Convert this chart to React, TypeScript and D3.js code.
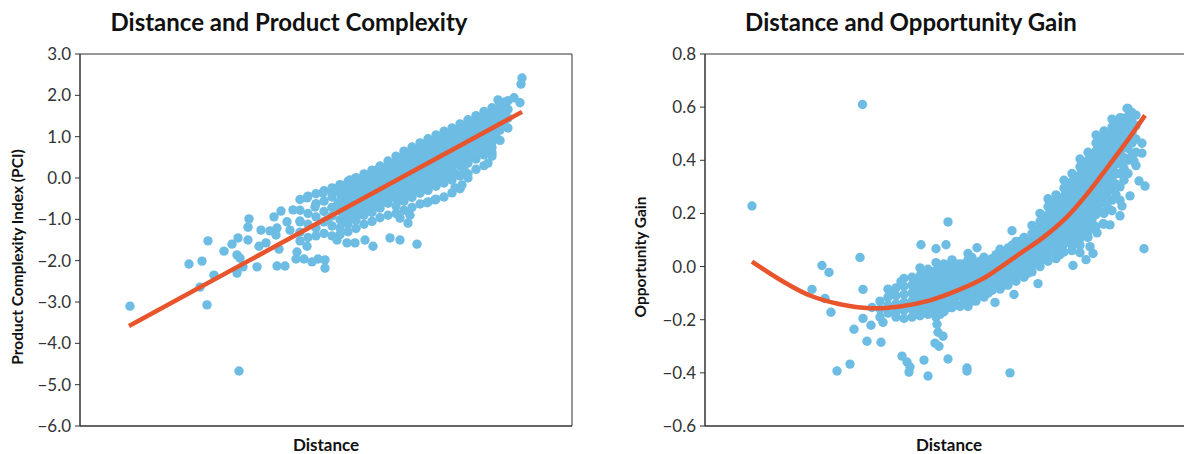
import React from "react";
import * as d3 from "d3";

// --- data --------------------------------------------------------------

// left panel: dense cloud as columns of [distance, PCI values]
const pciColumns: [number, number[]][] = [
  [44, [-0.52, -0.78, -1.04, -1.31, -1.52]],
  [45.6, [-0.44, -0.86, -1.12, -1.44]],
  [47.2, [-0.38, -0.62, -0.94, -1.21, -1.4]],
  [48.8, [-0.31, -0.56, -0.81, -1.06, -1.34]],
  [50.4, [-0.24, -0.46, -0.71, -0.92, -1.16, -1.4]],
  [52, [-0.16, -0.36, -0.56, -0.79, -1.01, -1.21, -1.37]],
  [53.6, [-0.08, -0.29, -0.51, -0.71, -0.91, -1.11, -1.3]],
  [55.2, [0.01, -0.21, -0.4, -0.61, -0.81, -1.02, -1.22]],
  [56.8, [0.1, -0.11, -0.31, -0.5, -0.71, -0.9, -1.12]],
  [58.4, [0.19, -0.02, -0.22, -0.43, -0.62, -0.83, -1.05]],
  [60, [0.29, 0.08, -0.12, -0.33, -0.52, -0.73, -0.96]],
  [61.6, [0.41, 0.2, 0.0, -0.21, -0.4, -0.61, -0.9]],
  [63.2, [0.53, 0.32, 0.12, -0.08, -0.29, -0.48, -0.68, -0.86]],
  [64.8, [0.65, 0.45, 0.25, 0.05, -0.15, -0.36, -0.56, -0.78]],
  [66.4, [0.75, 0.54, 0.34, 0.14, -0.06, -0.27, -0.47, -0.71]],
  [68, [0.85, 0.64, 0.44, 0.24, 0.04, -0.16, -0.37, -0.63]],
  [69.6, [0.95, 0.74, 0.54, 0.34, 0.14, -0.06, -0.3, -0.58]],
  [71.2, [1.04, 0.83, 0.63, 0.43, 0.23, 0.03, -0.2, -0.51]],
  [72.8, [1.13, 0.92, 0.72, 0.52, 0.32, 0.12, -0.12, -0.46]],
  [74.4, [1.21, 1.01, 0.81, 0.6, 0.4, 0.2, -0.05, -0.36]],
  [76, [1.31, 1.1, 0.9, 0.7, 0.5, 0.3, 0.05, -0.26]],
  [77.6, [1.41, 1.2, 1.0, 0.8, 0.6, 0.36, 0.1]],
  [79.2, [1.51, 1.3, 1.1, 0.9, 0.7, 0.46, 0.21]],
  [80.8, [1.61, 1.4, 1.2, 1.0, 0.8, 0.56, 0.3]],
  [82.4, [1.7, 1.5, 1.3, 1.1, 0.86, 0.61]],
  [84, [1.79, 1.58, 1.38, 1.16, 0.91]],
  [85.6, [1.87, 1.66, 1.45, 1.21]],
];

// left panel: points packed between the columns in the solid core
const pciCore: [number, number[]][] = [
  [52.8, [-0.21, -0.41, -0.64, -0.86, -1.06]],
  [54.4, [-0.14, -0.36, -0.56, -0.76, -0.96]],
  [56, [-0.06, -0.25, -0.46, -0.66, -0.87]],
  [57.6, [0.04, -0.16, -0.35, -0.56, -0.75]],
  [59.2, [0.13, -0.07, -0.28, -0.47, -0.68]],
  [60.8, [0.23, 0.03, -0.18, -0.37, -0.58]],
  [62.4, [0.35, 0.15, -0.06, -0.25, -0.46]],
  [64, [0.47, 0.27, 0.07, -0.14, -0.33, -0.53]],
  [65.6, [0.6, 0.4, 0.2, 0.0, -0.21, -0.41]],
  [67.2, [0.69, 0.49, 0.29, 0.09, -0.12, -0.32]],
  [68.8, [0.79, 0.59, 0.39, 0.19, -0.01, -0.22]],
  [70.4, [0.89, 0.69, 0.49, 0.29, 0.09, -0.15]],
  [72, [0.98, 0.78, 0.58, 0.38, 0.18, -0.05]],
  [73.6, [1.07, 0.87, 0.67, 0.47, 0.27, 0.03]],
  [75.2, [1.16, 0.96, 0.75, 0.55, 0.35, 0.1]],
  [76.8, [1.25, 1.05, 0.85, 0.65, 0.45, 0.2]],
  [78.4, [1.35, 1.15, 0.95, 0.75, 0.51]],
  [80, [1.45, 1.25, 1.05, 0.85, 0.61]],
  [81.6, [1.55, 1.35, 1.15, 0.95, 0.71]],
  [83.2, [1.65, 1.45, 1.25, 1.01]],
  [84.8, [1.73, 1.53, 1.31]],
];

// left panel: scattered points [distance, PCI]
const pciScatter: [number, number][] = [
  [10, -3.1], [31.8, -4.67], [21.8, -2.08], [24.4, -2.01], [25.6, -1.52],
  [25.4, -3.07], [26.8, -2.35], [24, -2.64], [28.8, -1.77], [30.4, -1.6],
  [31.6, -1.45], [31.4, -1.86], [32, -1.94], [31.4, -2.3], [32.6, -2.15],
  [33.6, -1.5], [33.8, -0.99], [33.6, -1.19], [35.4, -2.15], [35.8, -1.65],
  [36.2, -1.26], [37.2, -1.57], [38, -1.28], [38.8, -0.94], [39.4, -1.21],
  [39.2, -1.38], [39.8, -1.72], [39.4, -2.13], [41, -2.13], [40.2, -0.8],
  [41.4, -1.06], [42, -1.26], [42.6, -0.77], [43.4, -1.79], [43.2, -1.96],
  [44.8, -1.96], [45.4, -1.65], [44, -1.06], [45.4, -0.48], [46.4, -2.03],
  [47, -0.7], [47.6, -1.96], [49, -2.18], [49, -1.98], [48.6, -0.36],
  [49.4, -1.02], [50.4, -0.36], [51.6, -0.6], [51.8, -0.22], [51.4, -1.5],
  [53.4, -1.57], [55, -1.57], [54, -0.05], [57, -1.5], [58.6, -1.65],
  [59.4, 0.19], [62, -1.45], [64, -1.5], [67.4, -1.6], [64, -0.97],
  [65.6, -1.09], [66, -0.9], [69.4, -0.6], [71, -0.53], [75, -0.24],
  [76.4, -0.17], [77.6, 0], [81.6, 0.36], [82.4, 0.73], [82.4, 0.53],
  [88.4, 2.42], [88.2, 2.27], [86.8, 1.94], [85, 1.84], [88, 1.82], [83.6, 1.89],
];

// left panel: linear fit
const pciFit: [number, number][] = [[9.8, -3.58], [88.4, 1.6]];
const pciTicks = [3, 2, 1, 0, -1, -2, -3, -4, -5, -6];

// right panel: dense cloud as columns of [distance, opportunity gain values]
const gainColumns: [number, number[]][] = [
  [35, [-0.13, -0.16, -0.19]],
  [36.6, [-0.085, -0.115, -0.145, -0.175]],
  [38.2, [-0.08, -0.11, -0.14, -0.17, -0.19]],
  [39.8, [-0.045, -0.075, -0.105, -0.135, -0.165, -0.195]],
  [41.4, [-0.04, -0.07, -0.1, -0.13, -0.16, -0.19]],
  [43, [-0.005, -0.035, -0.065, -0.095, -0.125, -0.155, -0.185]],
  [44.6, [-0.01, -0.04, -0.07, -0.1, -0.13, -0.16, -0.18]],
  [46.2, [0.015, -0.015, -0.045, -0.075, -0.105, -0.135, -0.165, -0.19]],
  [47.8, [0.01, -0.02, -0.05, -0.08, -0.11, -0.14, -0.17]],
  [49.4, [0.025, -0.005, -0.035, -0.065, -0.095, -0.125, -0.155]],
  [51, [0.01, -0.02, -0.05, -0.08, -0.11, -0.15]],
  [52.6, [0.025, -0.005, -0.035, -0.065, -0.095, -0.125, -0.15]],
  [54.2, [0.01, -0.02, -0.05, -0.08, -0.11, -0.13]],
  [55.8, [0.035, 0.005, -0.025, -0.055, -0.085, -0.115]],
  [57.4, [0.03, 0.0, -0.03, -0.06, -0.09]],
  [59, [0.065, 0.035, 0.005, -0.025, -0.055, -0.085]],
  [60.6, [0.07, 0.04, 0.01, -0.02, -0.05, -0.07]],
  [62.2, [0.095, 0.065, 0.035, 0.005, -0.025, -0.055]],
  [63.8, [0.11, 0.08, 0.05, 0.02, -0.01, -0.04]],
  [65.4, [0.155, 0.125, 0.095, 0.065, 0.035, 0.005, -0.02]],
  [67, [0.2, 0.17, 0.14, 0.11, 0.08, 0.05, 0.02, 0.0]],
  [68.6, [0.255, 0.225, 0.195, 0.165, 0.135, 0.105, 0.075, 0.045, 0.02]],
  [70.2, [0.27, 0.24, 0.21, 0.18, 0.15, 0.12, 0.09, 0.06, 0.03]],
  [71.8, [0.325, 0.295, 0.265, 0.235, 0.205, 0.175, 0.145, 0.115, 0.085, 0.055]],
  [73.4, [0.35, 0.32, 0.29, 0.26, 0.23, 0.2, 0.17, 0.14, 0.11, 0.08, 0.06]],
  [75, [0.405, 0.375, 0.345, 0.315, 0.285, 0.255, 0.225, 0.195, 0.165, 0.135, 0.105, 0.08]],
  [76.6, [0.43, 0.4, 0.37, 0.34, 0.31, 0.28, 0.25, 0.22, 0.19, 0.16, 0.13, 0.11]],
  [78.2, [0.495, 0.465, 0.435, 0.405, 0.375, 0.345, 0.315, 0.285, 0.255, 0.225, 0.195, 0.15]],
  [79.8, [0.51, 0.48, 0.45, 0.42, 0.39, 0.36, 0.33, 0.3, 0.27, 0.24, 0.2, 0.16]],
  [81.4, [0.555, 0.525, 0.495, 0.465, 0.435, 0.405, 0.37, 0.33, 0.29, 0.25, 0.21]],
  [83, [0.56, 0.53, 0.5, 0.47, 0.43, 0.39, 0.35, 0.3, 0.25]],
  [84.6, [0.595, 0.565, 0.525, 0.485, 0.445, 0.4, 0.35]],
  [86.2, [0.57, 0.53, 0.48, 0.43, 0.38]],
];

// right panel: points packed between the columns (flat cluster and rising band)
const gainCore: [number, number[]][] = [
  [42.2, [-0.06, -0.09, -0.12, -0.15, -0.18]],
  [43.8, [-0.02, -0.05, -0.08, -0.11, -0.14, -0.17]],
  [45.4, [-0.02, -0.055, -0.085, -0.115, -0.145, -0.17]],
  [47, [0.0, -0.03, -0.06, -0.09, -0.12, -0.15, -0.18]],
  [48.6, [0.0, -0.035, -0.065, -0.095, -0.125, -0.155]],
  [50.2, [0.01, -0.02, -0.05, -0.08, -0.11, -0.14]],
  [51.8, [0.01, -0.02, -0.05, -0.08, -0.11, -0.135]],
  [53.4, [0.015, -0.015, -0.045, -0.075, -0.105, -0.13]],
  [55, [0.02, -0.01, -0.04, -0.07, -0.1]],
  [56.6, [0.02, -0.01, -0.04, -0.07, -0.1]],
  [58.2, [0.045, 0.015, -0.015, -0.045, -0.075]],
  [59.8, [0.05, 0.02, -0.01, -0.04, -0.07]],
  [61.4, [0.08, 0.05, 0.02, -0.01, -0.04]],
  [63, [0.095, 0.065, 0.035, 0.005, -0.025]],
  [64.6, [0.095, 0.065, 0.035, 0.005, -0.025]],
  [66.2, [0.14, 0.11, 0.08, 0.05, 0.02]],
  [67.8, [0.185, 0.155, 0.125, 0.095, 0.065, 0.035]],
  [69.4, [0.24, 0.21, 0.18, 0.15, 0.12, 0.09, 0.06]],
  [71, [0.255, 0.225, 0.195, 0.165, 0.135, 0.105, 0.075, 0.045]],
  [72.6, [0.31, 0.28, 0.25, 0.22, 0.19, 0.16, 0.13, 0.1]],
  [74.2, [0.335, 0.305, 0.275, 0.245, 0.215, 0.185, 0.155, 0.125, 0.095]],
  [75.8, [0.39, 0.36, 0.33, 0.3, 0.27, 0.24, 0.21, 0.18, 0.15, 0.12]],
  [77.4, [0.415, 0.385, 0.355, 0.325, 0.295, 0.265, 0.235, 0.205, 0.175, 0.145]],
  [79, [0.48, 0.45, 0.42, 0.39, 0.36, 0.33, 0.3, 0.27, 0.24, 0.21]],
  [80.6, [0.495, 0.465, 0.435, 0.405, 0.375, 0.345, 0.315, 0.285, 0.255, 0.22]],
  [82.2, [0.54, 0.51, 0.48, 0.45, 0.42, 0.385, 0.35, 0.31, 0.27]],
  [83.8, [0.545, 0.515, 0.485, 0.45, 0.41, 0.37, 0.325]],
  [85.4, [0.58, 0.545, 0.505, 0.465, 0.42]],
];

// right panel: scattered points [distance, opportunity gain]
const gainScatter: [number, number][] = [
  [31.5, 0.61], [9.4, 0.228], [48.6, 0.168], [43.2, 0.082], [46.2, 0.067],
  [48.2, 0.082], [54.4, 0.071], [52.6, 0.049], [53.4, 0.034], [31, 0.034],
  [23.4, 0.004], [24.8, -0.022], [21.4, -0.086], [31.6, -0.086], [24, -0.12],
  [25.2, -0.172], [39.2, -0.056], [37.6, -0.105], [33.4, -0.154], [31.6, -0.195],
  [33.2, -0.221], [35.6, -0.21], [29.8, -0.236], [32.4, -0.281], [35.2, -0.285],
  [46.4, -0.217], [46.6, -0.247], [47.6, -0.262], [46, -0.288], [46.8, -0.3],
  [39.4, -0.337], [40.4, -0.359], [41, -0.378], [40.8, -0.397], [43.8, -0.352],
  [48.6, -0.348], [44.6, -0.412], [52.4, -0.382], [52.4, -0.393], [29, -0.367],
  [26.4, -0.393], [61, -0.4], [61.8, -0.105], [58, -0.135], [61.4, 0.135],
  [87.8, 0.067], [86.8, 0.322], [88, 0.303], [87.4, 0.464], [87.4, 0.427],
  [85.8, 0.397], [84.4, 0.595], [83.4, 0.558], [82.2, 0.543], [73.6, 0.004],
  [76.2, 0.026], [77.6, 0.049], [75, 0.052], [77, 0.075], [81, 0.157],
  [66.6, -0.064], [83.4, 0.228], [85, 0.266], [83, 0.191], [79.6, 0.161], [78.4, 0.127],
];

// right panel: fitted curve
const gainFit: [number, number][] = [
  [9.4, 0.019], [15.6, -0.056], [21, -0.109], [27, -0.142], [33, -0.157],
  [39, -0.15], [45, -0.127], [51, -0.086], [56, -0.041], [59, -0.004],
  [63, 0.049], [67.6, 0.109], [72.4, 0.187], [76.4, 0.273], [80.4, 0.371],
  [84.4, 0.472], [88, 0.569],
];
const gainTicks = [0.8, 0.6, 0.4, 0.2, 0, -0.2, -0.4, -0.6];

// --- drawing ------------------------------------------------------------

const BLUE = "#6dbce3";
const RED = "#e8542c";
const FONT = "Lato, 'Noto Sans', sans-serif";

const flatten = (cols: [number, number[]][]): [number, number][] =>
  cols.flatMap(([x, ys]) => ys.map((y) => [x, y] as [number, number]));

interface PanelProps {
  title: string;
  titleX: number;
  yLabel: string;
  yLabelX: number;
  left: number;
  right: number;
  xDomain: [number, number];
  yDomain: [number, number];
  ticks: number[];
  points: [number, number][];
  fit: [number, number][];
  curved: boolean;
}

const top = 54;
const bottom = 426;

function Panel(p: PanelProps) {
  const x = d3.scaleLinear().domain(p.xDomain).range([p.left, p.right]);
  const y = d3.scaleLinear().domain(p.yDomain).range([bottom, top]);
  const fmt = d3.format(".1f");
  const line = d3
    .line<[number, number]>()
    .x((d) => x(d[0]))
    .y((d) => y(d[1]))
    .curve(p.curved ? d3.curveCatmullRom : d3.curveLinear);

  return (
    <g fontFamily={FONT}>
      <text
        x={p.titleX}
        y={31}
        textAnchor="middle"
        fontSize={24}
        fontWeight={700}
        fill="#111"
      >
        {p.title}
      </text>
      {/* frame */}
      <line x1={p.left} x2={p.right} y1={top} y2={top} stroke="#333" strokeWidth={1} />
      <line x1={p.right} x2={p.right} y1={top} y2={bottom} stroke="#333" strokeWidth={1} />
      {/* points */}
      <g fill={BLUE}>
        {p.points.map((d, i) => (
          <circle key={i} cx={x(d[0])} cy={y(d[1])} r={4.7} />
        ))}
      </g>
      <path d={line(p.fit) ?? ""} fill="none" stroke={RED} strokeWidth={4.5} />
      {/* axes */}
      <line x1={p.left} x2={p.left} y1={top} y2={bottom} stroke="#333" strokeWidth={1.5} />
      <line x1={p.left} x2={p.right} y1={bottom} y2={bottom} stroke="#333" strokeWidth={1.5} />
      {p.ticks.map((t) => (
        <g key={t}>
          <line x1={p.left - 5} x2={p.left} y1={y(t)} y2={y(t)} stroke="#333" strokeWidth={1} />
          <text
            x={p.left - 9}
            y={y(t)}
            dy="0.35em"
            textAnchor="end"
            fontSize={17}
            fill="#333"
          >
            {fmt(t)}
          </text>
        </g>
      ))}
      <text
        x={(p.left + p.right) / 2}
        y={451}
        textAnchor="middle"
        fontSize={17}
        fontWeight={700}
        fill="#111"
      >
        Distance
      </text>
      <text
        transform={`translate(${p.yLabelX},${(top + bottom) / 2 + 17}) rotate(-90)`}
        textAnchor="middle"
        fontSize={15.5}
        fontWeight={700}
        fill="#111"
      >
        {p.yLabel}
      </text>
    </g>
  );
}

export default function App() {
  return (
    <svg
      width={1184}
      height={454}
      style={{ position: "absolute", left: 0, top: 0, background: "#fff" }}
    >
      <Panel
        title="Distance and Product Complexity"
        titleX={289}
        yLabel="Product Complexity Index (PCI)"
        yLabelX={23}
        left={80}
        right={572}
        xDomain={[0, 98.4]}
        yDomain={[-6, 3]}
        ticks={pciTicks}
        points={[...flatten(pciColumns), ...flatten(pciCore), ...pciScatter]}
        fit={pciFit}
        curved={false}
      />
      <Panel
        title="Distance and Opportunity Gain"
        titleX={911}
        yLabel="Opportunity Gain"
        yLabelX={646}
        left={705}
        right={1193}
        xDomain={[0, 97.6]}
        yDomain={[-0.6, 0.8]}
        ticks={gainTicks}
        points={[...flatten(gainColumns), ...flatten(gainCore), ...gainScatter]}
        fit={gainFit}
        curved={true}
      />
    </svg>
  );
}
